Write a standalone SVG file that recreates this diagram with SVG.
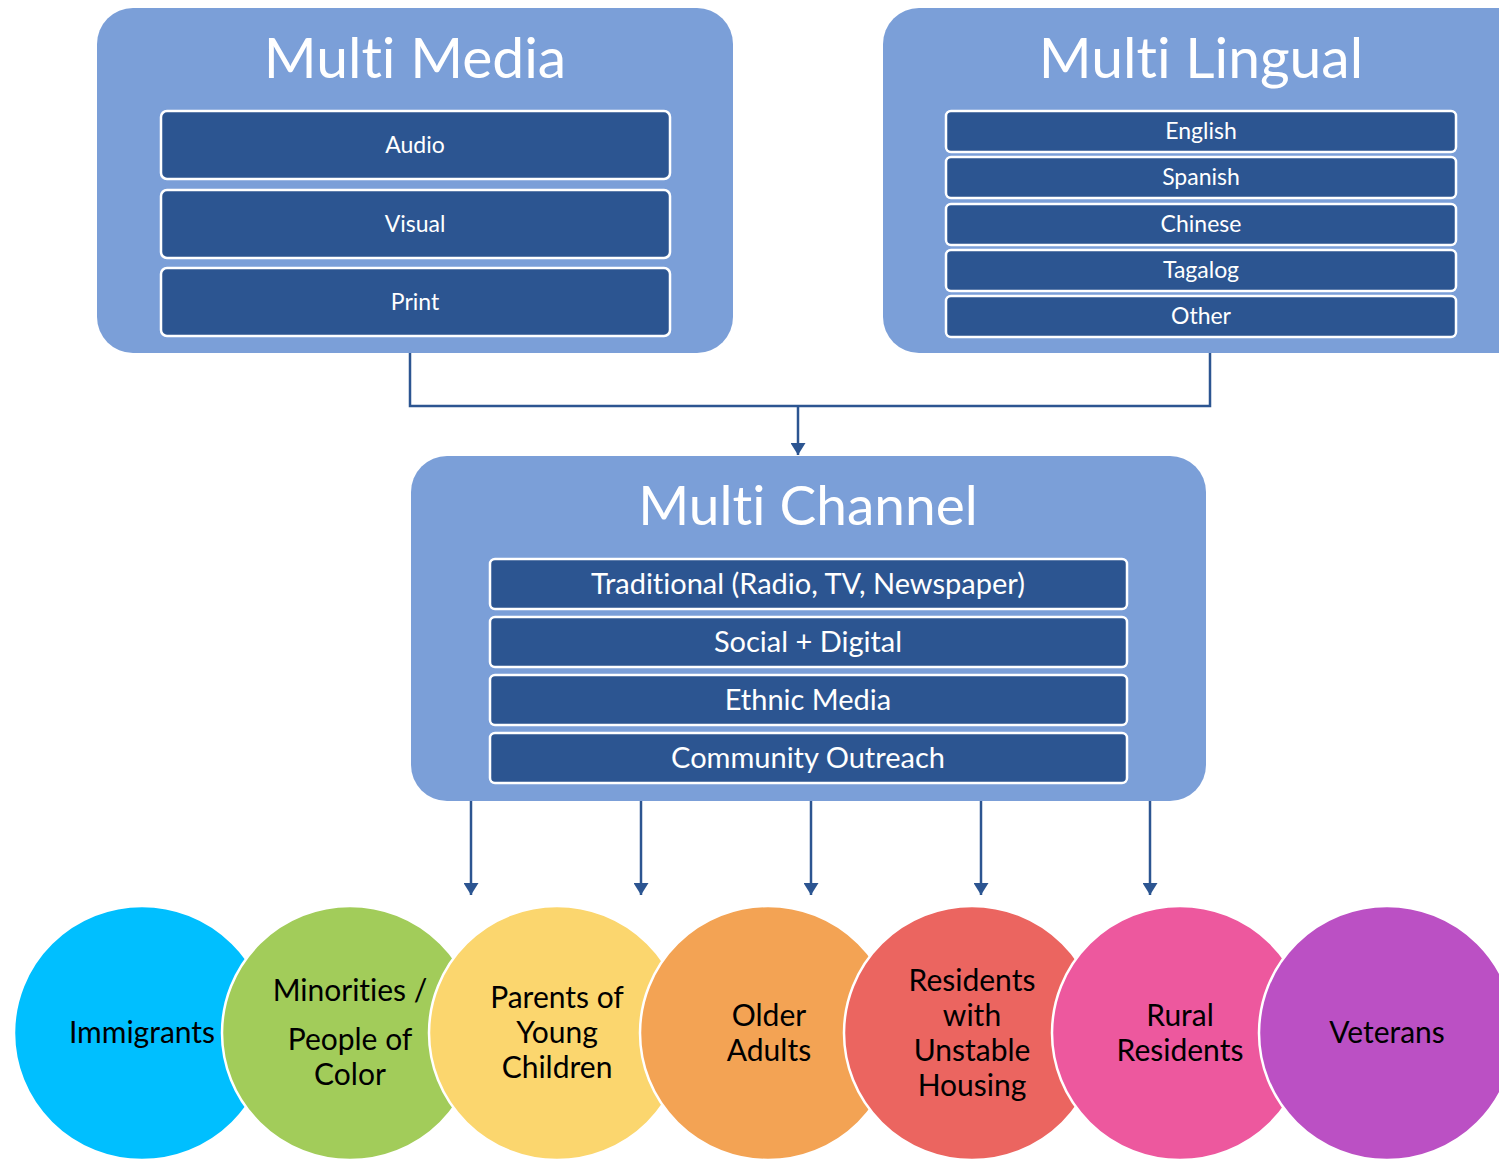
<svg xmlns="http://www.w3.org/2000/svg" width="1499" height="1159" viewBox="0 0 1499 1159">
<defs>
<style>
text{font-variant-ligatures:none;font-feature-settings:"liga" 0;}
.panel{fill:#7b9fd8;}
.item{fill:#2c5591;stroke:#ffffff;stroke-width:2.5;}
.title{font-family:Lato,"Liberation Sans",sans-serif;fill:#ffffff;font-size:57px;text-anchor:middle;}
.it{font-family:Lato,"Liberation Sans",sans-serif;fill:#ffffff;font-size:23px;text-anchor:middle;}
.ct{font-family:Lato,"Liberation Sans",sans-serif;fill:#ffffff;font-size:29px;text-anchor:middle;}
.circ{stroke:#ffffff;stroke-width:2.5;}
.lbl{font-family:Lato,"Liberation Sans",sans-serif;fill:#000000;font-size:30px;text-anchor:middle;}
.conn{fill:none;stroke:#2c5591;stroke-width:2.5;}
</style>
<marker id="arr" viewBox="0 0 12 15" refX="12" refY="7.5" markerWidth="12" markerHeight="15" markerUnits="userSpaceOnUse" orient="auto">
<path d="M0,0 L12,7.5 L0,15 Z" fill="#2c5591"/>
</marker>
</defs>

<g id="multi-media">
<rect class="panel" x="97" y="8" width="636" height="345" rx="36"/>
<text class="title" x="415" y="78">Multi Media</text>
<rect class="item" x="161" y="111" width="509" height="68" rx="6"/>
<text class="it" x="415" y="153">Audio</text>
<rect class="item" x="161" y="190" width="509" height="68" rx="6"/>
<text class="it" x="415" y="232">Visual</text>
<rect class="item" x="161" y="268" width="509" height="68" rx="6"/>
<text class="it" x="415" y="310">Print</text>
</g>

<g id="multi-lingual">
<rect class="panel" x="883" y="8" width="660" height="345" rx="36"/>
<text class="title" x="1201" y="78">Multi Lingual</text>
<rect class="item" x="946" y="111" width="510" height="41" rx="5"/>
<text class="it" x="1201" y="139">English</text>
<rect class="item" x="946" y="157" width="510" height="41" rx="5"/>
<text class="it" x="1201" y="185">Spanish</text>
<rect class="item" x="946" y="204" width="510" height="41" rx="5"/>
<text class="it" x="1201" y="232">Chinese</text>
<rect class="item" x="946" y="250" width="510" height="41" rx="5"/>
<text class="it" x="1201" y="278">Tagalog</text>
<rect class="item" x="946" y="296" width="510" height="41" rx="5"/>
<text class="it" x="1201" y="324">Other</text>
</g>

<g id="multi-channel">
<rect class="panel" x="411" y="456" width="795" height="345" rx="36"/>
<text class="title" x="808" y="525" style="font-size:55px">Multi Channel</text>
<rect class="item" x="490" y="559" width="637" height="50" rx="5"/>
<text class="ct" x="808" y="594">Traditional (Radio, TV, Newspaper)</text>
<rect class="item" x="490" y="617" width="637" height="50" rx="5"/>
<text class="ct" x="808" y="652">Social + Digital</text>
<rect class="item" x="490" y="675" width="637" height="50" rx="5"/>
<text class="ct" x="808" y="710">Ethnic Media</text>
<rect class="item" x="490" y="733" width="637" height="50" rx="5"/>
<text class="ct" x="808" y="768">Community Outreach</text>
</g>

<g id="connectors">
<path class="conn" d="M410,353 V406 H1210 V353"/>
<path class="conn" d="M798,406 V455" marker-end="url(#arr)"/>
<path class="conn" d="M471,801 V895" marker-end="url(#arr)"/>
<path class="conn" d="M641,801 V895" marker-end="url(#arr)"/>
<path class="conn" d="M811,801 V895" marker-end="url(#arr)"/>
<path class="conn" d="M981,801 V895" marker-end="url(#arr)"/>
<path class="conn" d="M1150,801 V895" marker-end="url(#arr)"/>
</g>

<g id="immigrants">
<ellipse class="circ" cx="142" cy="1033" rx="128" ry="127" fill="#00bfff"/>
<text class="lbl" x="142" y="1043">Immigrants</text>
</g>
<g id="minorities">
<ellipse class="circ" cx="350" cy="1033" rx="128" ry="127" fill="#a2cc5a"/>
<text class="lbl" x="350" y="1001">Minorities /</text>
<text class="lbl" x="350" y="1050">People of</text>
<text class="lbl" x="350" y="1085">Color</text>
</g>
<g id="parents">
<ellipse class="circ" cx="557" cy="1033" rx="128" ry="127" fill="#fbd66e"/>
<text class="lbl" x="557" y="1008">Parents of</text>
<text class="lbl" x="557" y="1043">Young</text>
<text class="lbl" x="557" y="1078">Children</text>
</g>
<g id="older-adults">
<ellipse class="circ" cx="768" cy="1033" rx="128" ry="127" fill="#f3a354"/>
<text class="lbl" x="769" y="1026">Older</text>
<text class="lbl" x="769" y="1061">Adults</text>
</g>
<g id="unstable-housing">
<ellipse class="circ" cx="972" cy="1033" rx="128" ry="127" fill="#eb6560"/>
<text class="lbl" x="972" y="991">Residents</text>
<text class="lbl" x="972" y="1026">with</text>
<text class="lbl" x="972" y="1061">Unstable</text>
<text class="lbl" x="972" y="1096">Housing</text>
</g>
<g id="rural">
<ellipse class="circ" cx="1180" cy="1033" rx="128" ry="127" fill="#ed589e"/>
<text class="lbl" x="1180" y="1026">Rural</text>
<text class="lbl" x="1180" y="1061">Residents</text>
</g>
<g id="veterans">
<ellipse class="circ" cx="1387" cy="1033" rx="128" ry="127" fill="#bb50c4"/>
<text class="lbl" x="1387" y="1043">Veterans</text>
</g>
</svg>
